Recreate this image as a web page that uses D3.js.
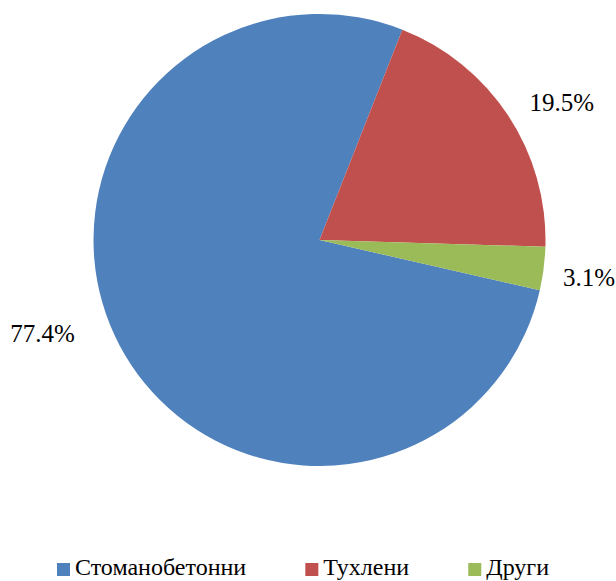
<!DOCTYPE html>
<html>
<head>
<meta charset="utf-8">
<script src="https://cdn.jsdelivr.net/npm/d3@7"></script>
<style>
  body { margin: 0; background: #fff; }
  svg { display: block; }
  text { font-family: "Liberation Serif", "Times New Roman", serif; fill: #000; }
</style>
</head>
<body>
<div id="chart"></div>
<script>
// data
const categories = ["Стоманобетонни", "Тухлени", "Други"];
const shares = [77.4, 19.5, 3.1];
const colors = ["#4F81BD", "#C0504D", "#9BBB59"];

const width = 616, height = 581;
const cx = 319.5, cy = 240, radius = 226;

// red slice begins at ~21.5deg past 12 o'clock, so blue starts after red + green
const startDeg = 21.5 + (shares[1] + shares[2]) * 3.6;
const startAngle = startDeg * Math.PI / 180;

// small nudges to place labels the way the original does
const labelNudge = [[-33, -35], [12, 14], [-4, 3]];

const svg = d3.select("#chart").append("svg")
    .attr("width", width)
    .attr("height", height);

const data = categories.map((c, i) => ({key: c, value: shares[i], color: colors[i], idx: i}));

const pie = d3.pie()
    .value(d => d.value)
    .sort(null)
    .startAngle(startAngle)
    .endAngle(startAngle + 2 * Math.PI);

const arc = d3.arc().innerRadius(0).outerRadius(radius);
const labelArc = d3.arc().innerRadius(radius * 1.22).outerRadius(radius * 1.22);

const g = svg.append("g").attr("transform", `translate(${cx},${cy})`);

g.selectAll(".slice")
    .data(pie(data))
    .enter().append("path")
    .attr("class", "slice")
    .attr("d", arc)
    .style("fill", d => d.data.color);

g.selectAll(".label")
    .data(pie(data))
    .enter().append("text")
    .attr("class", "label")
    .attr("transform", d => {
        let c = labelArc.centroid(d);
        let n = labelNudge[d.data.idx];
        return `translate(${c[0] + n[0]},${c[1] + n[1]})`;
    })
    .attr("text-anchor", "middle")
    .attr("dominant-baseline", "central")
    .style("font-size", "25px")
    .text(d => d.data.value.toFixed(1) + "%");

// legend along the bottom edge
const legend = svg.append("g").attr("class", "legend");
const items = legend.selectAll(".item")
    .data(data)
    .enter().append("g")
    .attr("class", "item");

items.append("rect")
    .attr("width", 13)
    .attr("height", 13)
    .attr("y", 563)
    .style("fill", d => d.color);

items.append("text")
    .attr("x", 18)
    .attr("y", 575)
    .style("font-size", "24px")
    .text(d => d.key);

// lay items out left to right with a fixed gap
let x = 57;
items.each(function() {
    let w = this.getBBox().width;
    d3.select(this).attr("transform", `translate(${x},0)`);
    x += w + 59;
});
</script>
</body>
</html>
